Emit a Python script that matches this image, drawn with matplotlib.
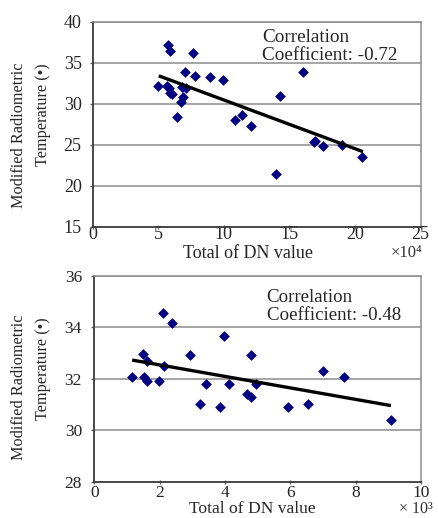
import matplotlib
matplotlib.use("Agg")
import matplotlib.pyplot as plt
import numpy as np

plt.rcParams['font.family'] = ['Liberation Serif', 'DejaVu Serif']

# ---- top panel data (x in 1e4 units) ----
top_x = [4.97, 5.74, 5.87, 5.66, 5.82, 5.87, 6.07, 6.79, 7.15, 6.86, 6.76, 6.46,
         7.02, 7.78, 7.65, 8.93, 9.95, 10.84, 11.4, 12.04, 14.28, 16.0, 13.95,
         16.85, 16.95, 17.55, 19.0, 20.5]
top_y = [32.16, 37.16, 36.46, 32.16, 31.88, 31.27, 31.18, 32.07, 31.88, 30.85, 30.2, 28.41,
         33.9, 33.38, 36.22, 33.29, 32.89, 28.0, 28.62, 27.28, 30.94, 33.83, 21.39,
         25.37, 25.45, 24.84, 24.95, 23.46]
top_trend_x = [5.05, 20.6]
top_trend_y = [33.4, 24.15]
top_xticks = [0, 5, 10, 15, 20, 25]
top_yticks = [15, 20, 25, 30, 35, 40]
top_corr = ["Correlation", "Coefficient: -0.72"]

# ---- bottom panel data (x in 1e3 units) ----
bot_x = [1.16, 1.48, 1.53, 1.60, 1.60, 1.99, 2.11, 2.14, 2.39, 2.94, 3.23, 3.41,
         3.84, 3.96, 4.11, 4.67, 4.81, 4.81, 4.94, 5.93, 6.54, 7.0, 7.64, 9.08]
bot_y = [32.08, 32.98, 32.08, 32.69, 31.92, 31.92, 34.56, 32.5, 34.17, 32.91, 31.02, 31.8,
         30.9, 33.68, 31.8, 31.41, 31.31, 32.91, 31.8, 30.9, 31.02, 32.31, 32.08, 30.4]
bot_trend_x = [1.16, 9.08]
bot_trend_y = [32.73, 30.96]
bot_xticks = [0, 2, 4, 6, 8, 10]
bot_yticks = [28, 30, 32, 34, 36]
bot_corr = ["Correlation", "Coefficient: -0.48"]

xlabel = "Total of DN value"
ylabel = ["Modified Radiometric", "Temperature (•)"]

W, H = 438, 518
fig = plt.figure(figsize=(W / 100, H / 100), dpi=100)

MARK = '#000080'
GRID = '#8c8c8c'
SPINE = '#3a3a3a'
TXT = '#262626'


def fx(px):
    return px / W


def fy(py):
    return 1 - py / H


def setup(ax, xt, yt, fs, xpad, ypad):
    ax.set_xlim(xt[0], xt[-1])
    ax.set_ylim(yt[0], yt[-1])
    ax.set_xticks(xt)
    ax.set_yticks(yt)
    for v in yt[1:]:
        ax.axhline(v, color=GRID, lw=1.1, zorder=1)
    for s in ('top', 'right'):
        ax.spines[s].set_color(GRID)
        ax.spines[s].set_linewidth(1.1)
    for s in ('left', 'bottom'):
        ax.spines[s].set_color(SPINE)
        ax.spines[s].set_linewidth(1.3)
    ax.tick_params(axis='x', direction='inout', length=3, width=1, colors='#666666',
                   labelsize=fs, labelcolor=TXT, pad=xpad)
    ax.tick_params(axis='y', direction='out', length=2, width=1, colors='#666666',
                   labelsize=fs, labelcolor=TXT, pad=ypad)


# ---------------- top axes ----------------
ax1 = fig.add_axes([fx(92.5), fy(226.7), (420.7 - 92.5) / W, (226.7 - 21.7) / H])
setup(ax1, top_xticks, top_yticks, 13, -2.0, 5.8)
ax1.scatter(top_x, top_y, marker='D', s=30, color=MARK, zorder=3, linewidths=0)
ax1.plot(top_trend_x, top_trend_y, color='black', lw=2.4, zorder=4, solid_capstyle='butt')
fig.text(fx(262), fy(41.7), top_corr[0], fontsize=13.8, va='baseline', ha='left', color=TXT)
fig.text(fx(262), fy(60), top_corr[1], fontsize=13.8, va='baseline', ha='left', color=TXT)
fig.text(fx(247.5), fy(258.3), xlabel, fontsize=13, ha='center', va='baseline', color=TXT)
fig.text(fx(407), fy(257), "×10⁴", fontsize=12, ha='center', va='baseline', color='#333333')
fig.text(fx(19), fy(62), ylabel[0], fontsize=11.7, rotation=90, ha='center', va='top', color=TXT)
fig.text(fx(43), fy(63), ylabel[1], fontsize=11.7, rotation=90, ha='center', va='top', color=TXT)

# ---------------- bottom axes ----------------
ax2 = fig.add_axes([fx(94.3), fy(481.7), (421 - 94.3) / W, (481.7 - 276) / H])
setup(ax2, bot_xticks, bot_yticks, 12.5, 1.0, 6.9)
ax2.scatter(bot_x, bot_y, marker='D', s=30, color=MARK, zorder=3, linewidths=0)
ax2.plot(bot_trend_x, bot_trend_y, color='black', lw=2.4, zorder=4, solid_capstyle='butt')
fig.text(fx(266.7), fy(301.7), bot_corr[0], fontsize=13.6, va='baseline', ha='left', color=TXT)
fig.text(fx(266.7), fy(320), bot_corr[1], fontsize=13.6, va='baseline', ha='left', color=TXT)
fig.text(fx(252.5), fy(513), xlabel, fontsize=12.6, ha='center', va='baseline', color=TXT)
fig.text(fx(416), fy(513), "× 10³", fontsize=11.5, ha='center', va='baseline', color='#333333')
fig.text(fx(19), fy(315), ylabel[0], fontsize=11.7, rotation=90, ha='center', va='top', color=TXT)
fig.text(fx(43), fy(317), ylabel[1], fontsize=11.7, rotation=90, ha='center', va='top', color=TXT)

fig.savefig("out.png", dpi=100)
